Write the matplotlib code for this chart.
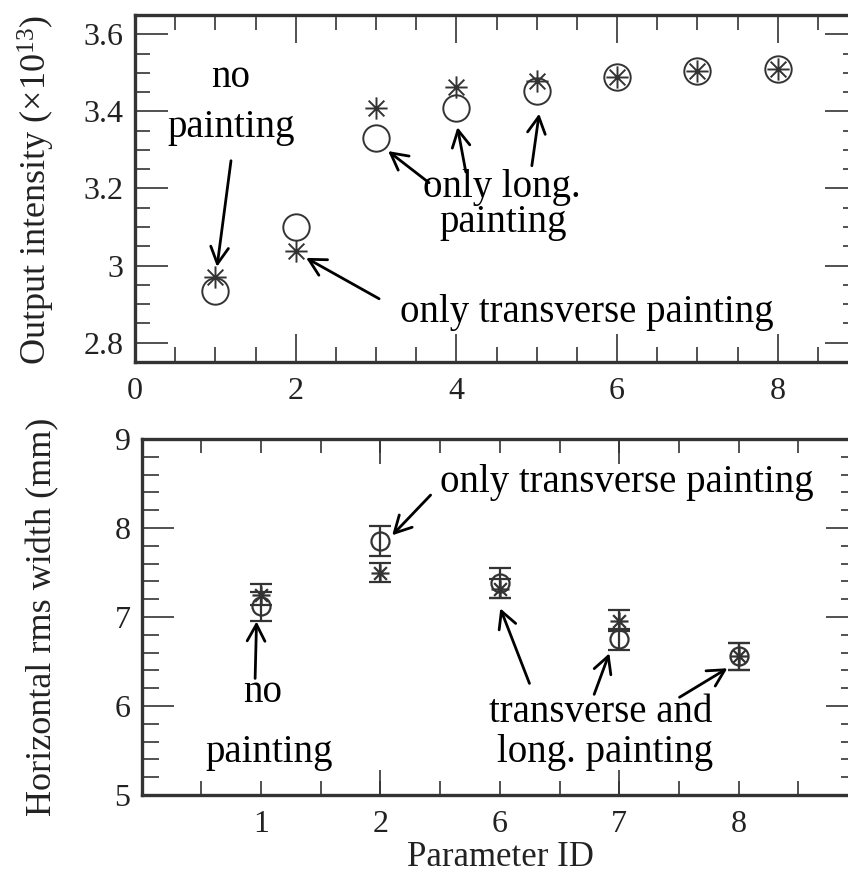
import numpy as np
import matplotlib
matplotlib.use("Agg")
import matplotlib.pyplot as plt
from matplotlib.path import Path
from matplotlib.ticker import MultipleLocator

# ---------------- data ----------------
top_ids = [1, 2, 3, 4, 5, 6, 7, 8]
top_circle = [2.933, 3.100, 3.331, 3.410, 3.453, 3.488, 3.505, 3.510]
top_star = [2.970, 3.037, 3.409, 3.462, 3.479, 3.488, 3.505, 3.510]

bottom_labels = ['1', '2', '6', '7', '8']
bottom_circle = [7.12, 7.85, 7.38, 6.75, 6.56]
bottom_circle_err = [0.16, 0.17, 0.17, 0.12, 0.15]
bottom_star = [7.25, 7.50, 7.32, 6.96, 6.56]
bottom_star_err = [0.12, 0.11, 0.11, 0.12, 0.15]

# ---------------- style ----------------
plt.rcParams['font.family'] = ['Liberation Serif', 'DejaVu Serif']
plt.rcParams['mathtext.fontset'] = 'custom'
plt.rcParams['mathtext.rm'] = 'Liberation Serif'
plt.rcParams['mathtext.it'] = 'Liberation Serif:italic'

GRAY = '#333333'
W, H = 848, 883

# asterisk marker (8 spokes)
d = np.sqrt(0.5)
ast_verts = [(-1, 0), (1, 0), (0, -1), (0, 1), (-d, -d), (d, d), (-d, d), (d, -d)]
ast_codes = [Path.MOVETO, Path.LINETO] * 4
ASTERISK = Path(ast_verts, ast_codes)

fig = plt.figure(figsize=(W / 100, H / 100), dpi=100)
fig.patch.set_facecolor('white')


def px_axes(left, top, right, bottom):
    return fig.add_axes([left / W, 1 - bottom / H, (right - left) / W, (bottom - top) / H])


def style_axes(ax, ymaj_len, ymin_len, xmaj_len, xmin_len):
    for s in ax.spines.values():
        s.set_linewidth(2.4)
        s.set_color(GRAY)
    ax.tick_params(axis='both', which='both', direction='in', top=True, right=True,
                   color=GRAY, width=1.2, labelsize=23, labelcolor='#222222')
    ax.tick_params(axis='y', which='major', length=ymaj_len, pad=8)
    ax.tick_params(axis='y', which='minor', length=ymin_len)
    ax.tick_params(axis='x', which='major', length=xmaj_len, pad=11)
    ax.tick_params(axis='x', which='minor', length=xmin_len, pad=11)


arrow_kw = dict(arrowstyle='->,head_length=0.6,head_width=0.32', lw=2.0, color='black',
                mutation_scale=20, shrinkA=0, shrinkB=0)


def arrow(ax, start, end):
    ax.annotate('', xy=end, xytext=start, arrowprops=arrow_kw)


# ---------------- top panel ----------------
ax1 = px_axes(135, 15, 858, 362)
ax1.set_xlim(0, 9)
ax1.set_ylim(2.75, 3.65)
ax1.plot(top_ids, top_circle, linestyle='none', marker='o', ms=19, mfc='none',
         mec=GRAY, mew=1.4)
ax1.plot(top_ids, top_star, linestyle='none', marker=ASTERISK, ms=16, mfc='none',
         mec=GRAY, mew=1.4)
ax1.xaxis.set_major_locator(MultipleLocator(2))
ax1.xaxis.set_minor_locator(MultipleLocator(0.5))
ax1.yaxis.set_minor_locator(MultipleLocator(0.05))
ax1.set_yticks([2.8, 3.0, 3.2, 3.4, 3.6], labels=['2.8', '3', '3.2', '3.4', '3.6'])
ax1.set_xticks([0, 2, 4, 6, 8], labels=['0', '2', '4', '6', '8'])
style_axes(ax1, 24, 11, 20, 11)

TXT = dict(fontsize=28, color='black', ha='center', va='baseline')
ax1.text(1.19, 3.463, 'no', **TXT)
ax1.text(1.20, 3.333, 'painting', **TXT)
ax1.text(4.57, 3.177, 'only long.', **TXT)
ax1.text(4.58, 3.087, 'painting', **TXT)
ax1.text(5.62, 2.853, 'only transverse painting', **TXT)
arrow(ax1, (1.195, 3.272), (1.021, 2.997))
arrow(ax1, (3.66, 3.215), (3.151, 3.297))
arrow(ax1, (4.118, 3.243), (4.014, 3.359))
arrow(ax1, (4.940, 3.259), (5.031, 3.394))
arrow(ax1, (3.039, 2.914), (2.13, 3.02))

# ---------------- bottom panel ----------------
ax2 = px_axes(141.7, 439, 858, 795)
ax2.set_xlim(0, 6)
ax2.set_ylim(5, 9)
pos = np.arange(1, len(bottom_labels) + 1)
ax2.errorbar(pos, bottom_circle, yerr=bottom_circle_err, linestyle='none', marker='o',
             ms=13, mfc='none', mec=GRAY, mew=1.6, ecolor=GRAY, elinewidth=1.6,
             capsize=8, capthick=1.6)
ax2.errorbar(pos, bottom_star, yerr=bottom_star_err, linestyle='none', marker=ASTERISK,
             ms=13, mfc='none', mec=GRAY, mew=1.6, ecolor=GRAY, elinewidth=1.6,
             capsize=8, capthick=1.6)
ax2.xaxis.remove_overlapping_locs = False
ax2.set_xticks([2, 4], labels=['', ''])
minor_pos = np.arange(0.5, 6.0, 0.5)
minor_lab = []
for p in minor_pos:
    if abs(p - round(p)) < 1e-9 and 1 <= round(p) <= len(bottom_labels):
        minor_lab.append(bottom_labels[int(round(p)) - 1])
    else:
        minor_lab.append('')
ax2.set_xticks(minor_pos, labels=minor_lab, minor=True)
ax2.set_yticks([5, 6, 7, 8, 9], labels=['5', '6', '7', '8', '9'])
ax2.yaxis.set_minor_locator(MultipleLocator(0.2))
style_axes(ax2, 23, 12, 18, 10)

ax2.text(1.017, 6.045, 'no', **TXT)
ax2.text(1.067, 5.371, 'painting', **TXT)
ax2.text(4.06, 8.404, 'only transverse painting', **TXT)
ax2.text(3.846, 5.82, 'transverse and', **TXT)
ax2.text(3.879, 5.371, 'long. painting', **TXT)
arrow(ax2, (0.950, 6.31), (0.962, 6.95))
arrow(ax2, (2.42, 8.37), (2.098, 7.918))
arrow(ax2, (3.248, 6.254), (3.004, 7.097))
arrow(ax2, (3.79, 6.131), (3.917, 6.592))
arrow(ax2, (4.505, 6.098), (4.906, 6.424))

# ---------------- axis labels ----------------
fig.text(36 / W, 1 - 190 / H, r'Output intensity ($\times$10$^{13}$)', rotation=90,
         ha='center', va='center', fontsize=26, color='#222222')
fig.text(43 / W, 1 - 617 / H, 'Horizontal rms width (mm)', rotation=90,
         ha='center', va='center', fontsize=26, color='#222222')
fig.text(500 / W, 1 - 858 / H, 'Parameter ID', ha='center', va='center',
         fontsize=25, color='#222222')

fig.savefig('out.png', dpi=100, facecolor='white')
